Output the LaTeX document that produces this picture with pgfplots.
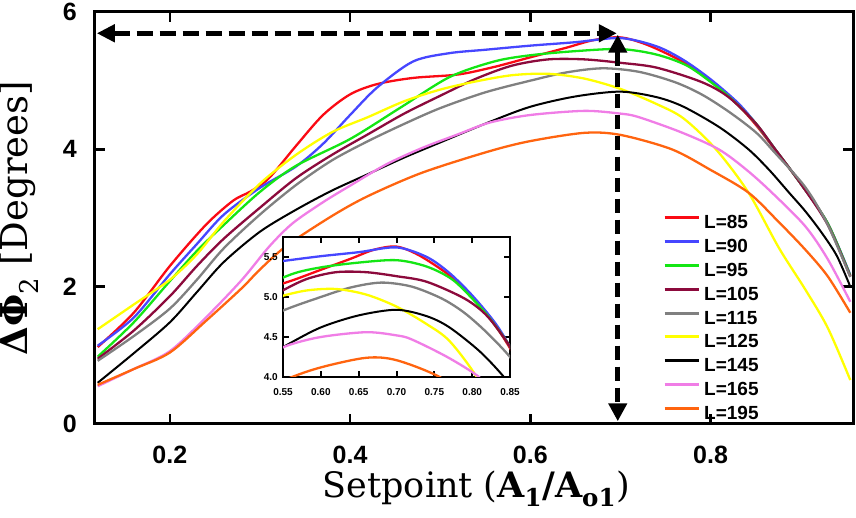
\documentclass[border=0pt]{standalone}
\usepackage{pgfplots}
\pgfplotsset{compat=1.18}
\usepackage{pgfplotstable}
\usetikzlibrary{arrows.meta}
\usepackage{fontspec}
\setmainfont{Liberation Sans}
\newfontfamily\dvs{DejaVu Serif}

\definecolor{cred}{RGB}{250,10,20}
\definecolor{cblue}{RGB}{70,70,255}
\definecolor{cgreen}{RGB}{20,230,20}
\definecolor{cmaroon}{RGB}{140,10,60}
\definecolor{cgray}{RGB}{128,128,128}
\definecolor{cyellow}{RGB}{255,255,0}
\definecolor{cblack}{RGB}{0,0,0}
\definecolor{cpink}{RGB}{240,125,230}
\definecolor{corange}{RGB}{255,100,15}

\pgfplotstableread{
x y
0.12 1.12
0.16 1.62
0.20 2.30
0.24 2.90
0.27 3.25
0.29 3.39
0.31 3.58
0.34 4.05
0.37 4.50
0.40 4.80
0.43 4.95
0.47 5.04
0.52 5.09
0.56 5.20
0.60 5.34
0.64 5.48
0.67 5.59
0.70 5.63
0.73 5.52
0.77 5.27
0.80 5.00
0.83 4.65
0.85 4.36
0.87 4.02
0.90 3.50
0.93 2.92
0.955 2.15
}\dataA

\pgfplotstableread{
x y
0.12 1.14
0.16 1.55
0.20 2.18
0.23 2.62
0.26 3.05
0.30 3.44
0.34 3.75
0.37 4.08
0.40 4.50
0.43 4.90
0.47 5.28
0.51 5.40
0.55 5.45
0.60 5.51
0.65 5.56
0.70 5.62
0.74 5.50
0.77 5.30
0.80 5.02
0.83 4.68
0.85 4.38
0.87 4.03
0.90 3.50
0.93 2.92
0.955 2.17
}\dataB

\pgfplotstableread{
x y
0.12 0.98
0.16 1.48
0.20 2.08
0.23 2.52
0.26 2.90
0.30 3.38
0.34 3.76
0.40 4.15
0.455 4.60
0.51 5.05
0.56 5.28
0.60 5.37
0.65 5.43
0.70 5.46
0.74 5.38
0.775 5.21
0.81 4.88
0.83 4.65
0.85 4.38
0.87 4.03
0.90 3.50
0.93 2.92
0.955 2.16
}\dataC

\pgfplotstableread{
x y
0.12 0.95
0.16 1.36
0.20 1.86
0.23 2.30
0.26 2.70
0.30 3.15
0.34 3.58
0.38 3.92
0.42 4.22
0.46 4.52
0.50 4.78
0.54 5.03
0.58 5.22
0.62 5.31
0.66 5.31
0.70 5.26
0.74 5.19
0.79 4.98
0.82 4.76
0.85 4.38
0.87 4.03
0.90 3.50
0.93 2.90
0.955 2.15
}\dataD

\pgfplotstableread{
x y
0.12 0.92
0.16 1.28
0.20 1.68
0.23 2.10
0.26 2.56
0.30 3.05
0.34 3.48
0.38 3.84
0.42 4.12
0.46 4.37
0.50 4.60
0.55 4.83
0.60 5.00
0.64 5.12
0.68 5.18
0.72 5.13
0.76 4.98
0.79 4.80
0.82 4.55
0.85 4.25
0.87 3.97
0.905 3.45
0.93 2.90
0.955 2.14
}\dataE

\pgfplotstableread{
x y
0.12 1.38
0.16 1.74
0.20 2.10
0.23 2.47
0.26 2.95
0.30 3.50
0.34 3.92
0.38 4.25
0.42 4.47
0.46 4.70
0.50 4.87
0.54 4.99
0.58 5.08
0.62 5.10
0.66 5.03
0.70 4.88
0.74 4.66
0.77 4.45
0.806 4.00
0.842 3.37
0.876 2.56
0.905 1.96
0.93 1.40
0.955 0.64
}\dataF

\pgfplotstableread{
x y
0.12 0.60
0.16 1.03
0.20 1.48
0.23 1.92
0.26 2.36
0.30 2.80
0.34 3.12
0.38 3.40
0.42 3.64
0.46 3.88
0.50 4.10
0.555 4.40
0.60 4.62
0.65 4.77
0.70 4.84
0.74 4.76
0.77 4.62
0.81 4.32
0.842 4.00
0.865 3.70
0.887 3.37
0.905 3.10
0.923 2.79
0.94 2.45
0.955 2.00
}\dataG

\pgfplotstableread{
x y
0.12 0.55
0.16 0.80
0.20 1.06
0.24 1.55
0.28 2.10
0.31 2.58
0.336 2.92
0.37 3.23
0.40 3.47
0.44 3.78
0.48 4.02
0.52 4.22
0.555 4.39
0.60 4.50
0.66 4.56
0.70 4.52
0.72 4.47
0.767 4.25
0.809 4.00
0.84 3.70
0.868 3.37
0.905 2.88
0.93 2.40
0.955 1.78
}\dataH

\pgfplotstableread{
x y
0.12 0.57
0.16 0.80
0.20 1.04
0.24 1.50
0.28 1.98
0.30 2.25
0.33 2.60
0.38 3.03
0.42 3.32
0.48 3.66
0.554 3.97
0.60 4.12
0.66 4.24
0.70 4.21
0.757 4.00
0.80 3.70
0.842 3.37
0.875 2.95
0.905 2.54
0.93 2.15
0.955 1.62
}\dataI

\pgfplotsset{/pgf/number format/assume math mode=true}

\begin{document}
\begin{tikzpicture}
\begin{axis}[
  at={(0pt,0pt)}, anchor=south west,
  scale only axis, width=758pt, height=412pt,
  xmin=0.117, xmax=0.958, ymin=0, ymax=6,
  xtick={0.2,0.4,0.6,0.8}, ytick={0,2,4,6},
  tick align=inside, major tick length=10pt,
  tick style={line width=2.5pt, black},
  axis line style={line width=3pt},
  tick label style={font=\fontsize{25}{25}\selectfont\bfseries},
  xticklabel style={anchor=base, inner sep=0pt, yshift=-40pt},
  yticklabel style={anchor=east, inner sep=0pt, xshift=-18pt},
  xlabel={Setpoint (\textbf{A\textsubscript{1}/A\textsubscript{o1}})},
  ylabel={\textbf{ΔΦ}\textsubscript{2} [Degrees]},
  xlabel style={at={(axis description cs:0.503,-0.178)}, anchor=base, font=\dvs\fontsize{35}{35}\selectfont},
  ylabel style={at={(axis description cs:-0.1003,0.5)}, anchor=center, font=\dvs\fontsize{37}{37}\selectfont},
  legend style={at={(axis description cs:0.7493,0.5055)}, anchor=north west, draw=none, fill=none, inner sep=0pt, row sep=10.8pt, font=\fontsize{19}{19}\selectfont\bfseries, nodes={inner xsep=4pt, inner ysep=0pt, text height=13pt, text depth=0pt}},
  legend cell align=left,
  legend image code/.code={\draw[#1, line width=3pt] (0pt,4.5pt) -- (34pt,4.5pt);},
  clip=false,
  every axis plot/.append style={line width=2.3pt, smooth},
]
\addplot[cred] table {\dataA}; \addlegendentry{L=85}
\addplot[cblue] table {\dataB}; \addlegendentry{L=90}
\addplot[cgreen] table {\dataC}; \addlegendentry{L=95}
\addplot[cmaroon] table {\dataD}; \addlegendentry{L=105}
\addplot[cgray] table {\dataE}; \addlegendentry{L=115}
\addplot[cyellow] table {\dataF}; \addlegendentry{L=125}
\addplot[cblack, line width=2pt] table {\dataG}; \addlegendentry{L=145}
\addplot[cpink] table {\dataH}; \addlegendentry{L=165}
\addplot[corange] table {\dataI}; \addlegendentry{L=195}
\draw[line width=4.5pt, dash pattern=on 16pt off 7pt, {Triangle[length=18pt,width=17pt]}-{Triangle[length=18pt,width=17pt]}] (axis cs:0.119,5.69) -- (axis cs:0.696,5.69);
\draw[line width=5pt, dash pattern=on 14pt off 7pt, {Triangle[length=18pt,width=18pt]}-{Triangle[length=18pt,width=18pt]}] (axis cs:0.697,5.67) -- (axis cs:0.697,0.04);
\end{axis}

\begin{axis}[
  at={(188pt,47pt)}, anchor=south west,
  scale only axis, width=227pt, height=140pt,
  xmin=0.55, xmax=0.85, ymin=4, ymax=5.75,
  xtick={0.55,0.60,0.65,0.70,0.75,0.80,0.85}, ytick={4,4.5,5,5.5},
  axis background/.style={fill=white},
  tick align=inside, major tick length=6pt,
  tick style={line width=2pt, black},
  axis line style={line width=2.5pt},
  tick label style={font=\fontsize{10}{10}\selectfont\bfseries},
  xticklabel style={/pgf/number format/.cd, fixed, fixed zerofill, precision=2, /tikz/.cd, anchor=base, inner sep=0pt, yshift=-19pt},
  yticklabel style={/pgf/number format/.cd, fixed, fixed zerofill, precision=1, /tikz/.cd, anchor=east, inner sep=0pt, xshift=-5pt},
  every axis plot/.append style={line width=2.3pt, smooth},
]
\addplot[cred] table {\dataA};
\addplot[cblue] table {\dataB};
\addplot[cgreen] table {\dataC};
\addplot[cmaroon] table {\dataD};
\addplot[cgray] table {\dataE};
\addplot[cyellow] table {\dataF};
\addplot[cblack, line width=2pt] table {\dataG};
\addplot[cpink] table {\dataH};
\addplot[corange] table {\dataI};
\end{axis}
\pgfresetboundingbox
\useasboundingbox (-95pt,-94pt) rectangle (761pt,424pt);
\end{tikzpicture}
\end{document}
